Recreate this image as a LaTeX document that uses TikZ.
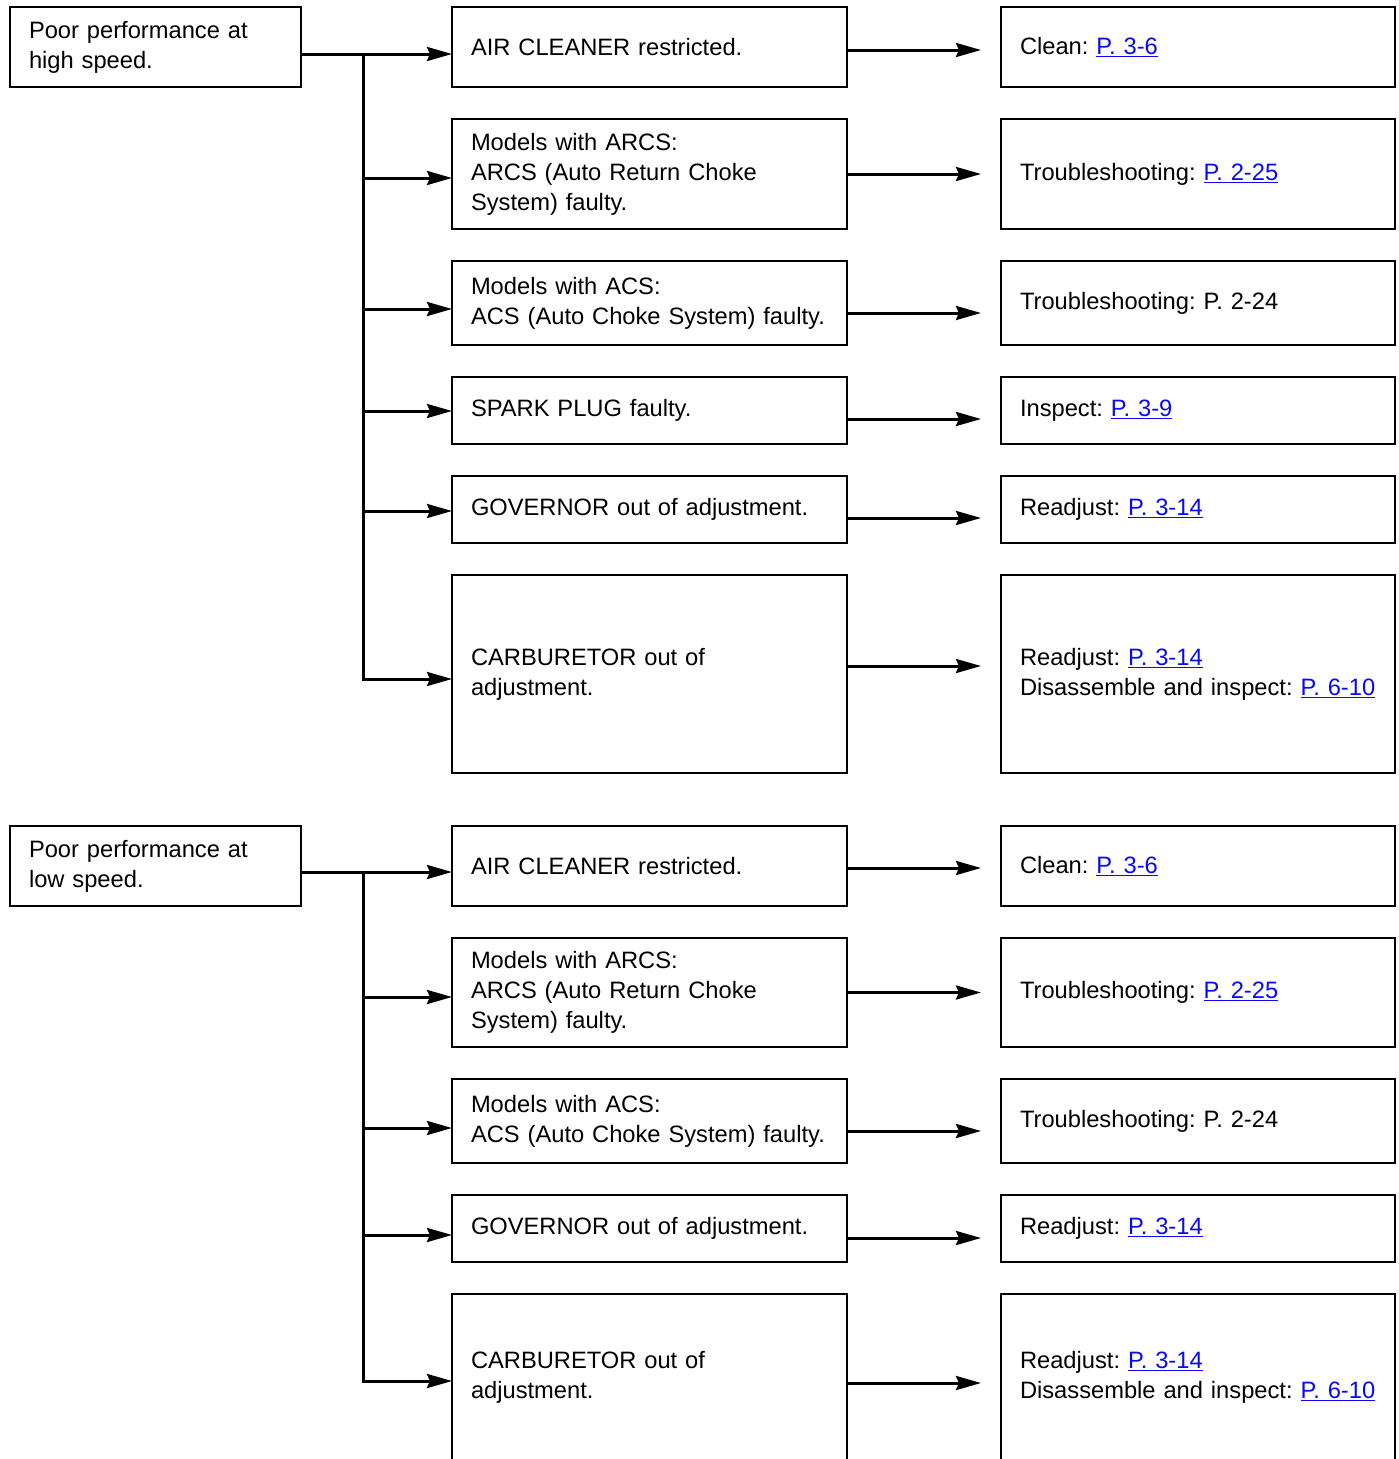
\documentclass[tikz,border=0pt]{standalone}
\usepackage{fontspec}
\setmainfont{Liberation Sans}
\usepackage{xcolor}
\usetikzlibrary{arrows.meta,positioning,calc}
\definecolor{linkblue}{RGB}{10,10,240}
\newcommand{\pagelink}[1]{\textcolor{linkblue}{\underline{#1}}}
\frenchspacing

\begin{document}
\begin{tikzpicture}[
  x=1pt, y=-1pt,
  font=\fontsize{23.7pt}{30pt}\selectfont\frenchspacing,
  box/.style={draw, line width=2pt, align=left, inner xsep=19pt, inner ysep=4pt, outer sep=0pt},
  sym/.style={box, text width=253pt, minimum height=80pt},
  cause/.style={box, text width=357pt},
  fix/.style={box, text width=356pt},
  arr/.style={-{Stealth[length=25pt, width=14pt, inset=3pt]}, line width=3pt},
  reply/.style={arr, shorten >=20pt}
]
\useasboundingbox (0,0) rectangle (1399,1459);
\clip (0,0) rectangle (1399,1459);

% high speed
\node[sym, anchor=north west] (hi) at (10,7) {Poor performance at\\high speed.};
\node[cause, minimum height=80pt, right=151pt of hi] (h1) {AIR CLEANER restricted.};
\node[cause, minimum height=110pt, below=32pt of h1] (h2) {Models with ARCS:\\ARCS (Auto Return Choke\\System) faulty.};
\node[cause, minimum height=84pt, below=32pt of h2] (h3) {Models with ACS:\\ACS (Auto Choke System) faulty.};
\node[cause, minimum height=67pt, below=32pt of h3] (h4) {SPARK PLUG faulty.};
\node[cause, minimum height=67pt, below=32pt of h4] (h5) {GOVERNOR out of adjustment.};
\node[cause, minimum height=198pt, below=32pt of h5] (h6) {CARBURETOR out of\\adjustment.};
\node[fix, minimum height=80pt, right=154pt of h1] (hr1) {Clean: \pagelink{P. 3-6}};
\node[fix, minimum height=110pt, right=154pt of h2] (hr2) {Troubleshooting: \pagelink{P. 2-25}};
\node[fix, minimum height=84pt, right=154pt of h3] (hr3) {Troubleshooting: P. 2-24};
\node[fix, minimum height=67pt, right=154pt of h4] (hr4) {Inspect: \pagelink{P. 3-9}};
\node[fix, minimum height=67pt, right=154pt of h5] (hr5) {Readjust: \pagelink{P. 3-14}};
\node[fix, minimum height=198pt, right=154pt of h6] (hr6) {Readjust: \pagelink{P. 3-14}\\Disassemble and inspect: \pagelink{P. 6-10}};

\coordinate (hb1) at (363,54);
\coordinate (hb2) at (363,178);
\coordinate (hb3) at (363,309);
\coordinate (hb4) at (363,411);
\coordinate (hb5) at (363,511);
\coordinate (hb6) at (363,679);
\draw[arr] (hi.east |- hb1) -- (hb1 -| h1.west);
\draw[arr] (hb1) -- (hb6) -- (hb6 -| h6.west);
\draw[arr] (hb2) -- (hb2 -| h2.west);
\draw[arr] (hb3) -- (hb3 -| h3.west);
\draw[arr] (hb4) -- (hb4 -| h4.west);
\draw[arr] (hb5) -- (hb5 -| h5.west);
\draw[reply] ($(h1.east)+(0,3)$) -- ($(hr1.west)+(0,3)$);
\draw[reply] (h2.east) -- (hr2.west);
\draw[reply] ($(h3.east)+(0,10)$) -- ($(hr3.west)+(0,10)$);
\draw[reply] ($(h4.east)+(0,8.5)$) -- ($(hr4.west)+(0,8.5)$);
\draw[reply] ($(h5.east)+(0,8.5)$) -- ($(hr5.west)+(0,8.5)$);
\draw[reply] ($(h6.east)+(0,-8)$) -- ($(hr6.west)+(0,-8)$);

% low speed
\node[sym, anchor=north west] (lo) at (10,826) {Poor performance at\\low speed.};
\node[cause, minimum height=80pt, right=151pt of lo] (l1) {AIR CLEANER restricted.};
\node[cause, minimum height=109pt, below=32pt of l1] (l2) {Models with ARCS:\\ARCS (Auto Return Choke\\System) faulty.};
\node[cause, minimum height=84pt, below=32pt of l2] (l3) {Models with ACS:\\ACS (Auto Choke System) faulty.};
\node[cause, minimum height=67pt, below=32pt of l3] (l4) {GOVERNOR out of adjustment.};
\node[cause, minimum height=167pt, below=32pt of l4] (l5) {CARBURETOR out of\\adjustment.};
\node[fix, minimum height=80pt, right=154pt of l1] (lr1) {Clean: \pagelink{P. 3-6}};
\node[fix, minimum height=109pt, right=154pt of l2] (lr2) {Troubleshooting: \pagelink{P. 2-25}};
\node[fix, minimum height=84pt, right=154pt of l3] (lr3) {Troubleshooting: P. 2-24};
\node[fix, minimum height=67pt, right=154pt of l4] (lr4) {Readjust: \pagelink{P. 3-14}};
\node[fix, minimum height=167pt, right=154pt of l5] (lr5) {Readjust: \pagelink{P. 3-14}\\Disassemble and inspect: \pagelink{P. 6-10}};

\coordinate (lb1) at (363,872);
\coordinate (lb2) at (363,997);
\coordinate (lb3) at (363,1128);
\coordinate (lb4) at (363,1235);
\coordinate (lb5) at (363,1381);
\draw[arr] (lo.east |- lb1) -- (lb1 -| l1.west);
\draw[arr] (lb1) -- (lb5) -- (lb5 -| l5.west);
\draw[arr] (lb2) -- (lb2 -| l2.west);
\draw[arr] (lb3) -- (lb3 -| l3.west);
\draw[arr] (lb4) -- (lb4 -| l4.west);
\draw[reply] ($(l1.east)+(0,2)$) -- ($(lr1.west)+(0,2)$);
\draw[reply] (l2.east) -- (lr2.west);
\draw[reply] ($(l3.east)+(0,10)$) -- ($(lr3.west)+(0,10)$);
\draw[reply] ($(l4.east)+(0,9.5)$) -- ($(lr4.west)+(0,9.5)$);
\draw[reply] ($(l5.east)+(0,5.5)$) -- ($(lr5.west)+(0,5.5)$);
\end{tikzpicture}
\end{document}
